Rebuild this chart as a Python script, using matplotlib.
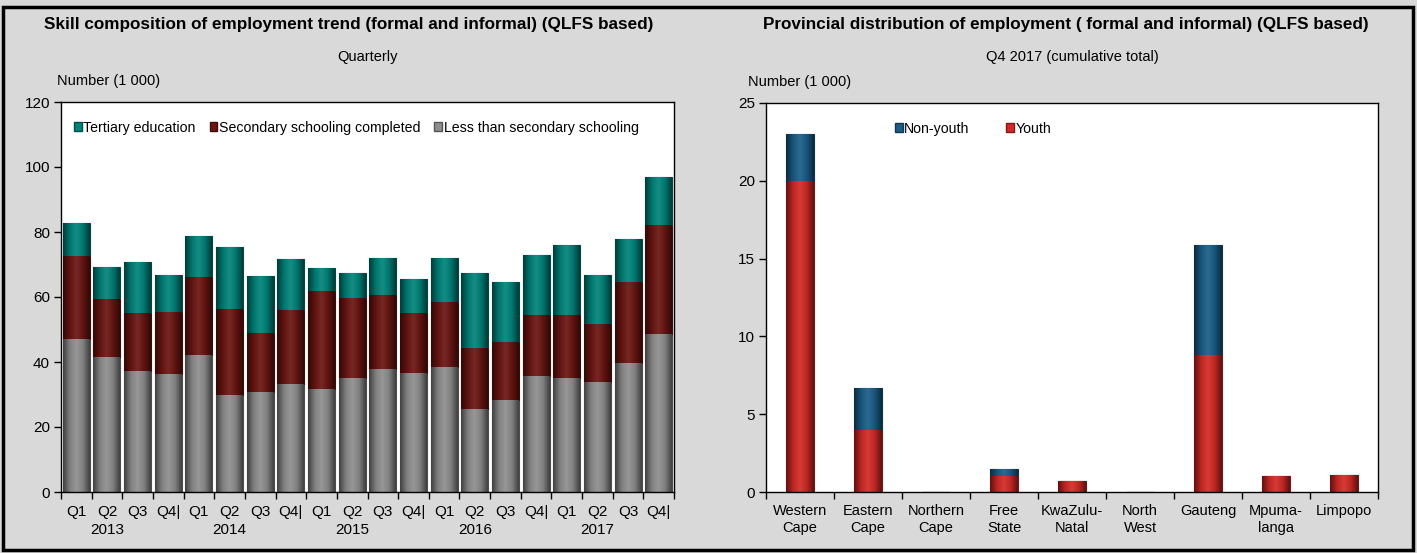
import matplotlib
matplotlib.use("Agg")

import matplotlib.pyplot as plt
import matplotlib.patches as mpatches
from matplotlib.colors import LinearSegmentedColormap
import numpy as np

NL = chr(10)

# --- data --------------------------------------------------------------
QUARTERS = ["Q1", "Q2", "Q3", "Q4|"] * 5
YEARS = ["2013", "2014", "2015", "2016", "2017"]

less_secondary = [47.0, 41.4, 37.1, 36.4, 42.3, 29.9, 30.8, 33.1, 31.8, 35.1,
                  37.8, 36.5, 38.6, 25.4, 28.3, 35.8, 35.2, 33.9, 39.8, 48.6]
secondary_top = [72.6, 59.3, 55.1, 55.5, 66.1, 56.2, 49.0, 56.0, 61.8, 59.7,
                 60.7, 55.2, 58.4, 44.2, 46.1, 54.6, 54.6, 51.8, 64.7, 82.3]
total_emp = [82.7, 69.2, 70.7, 66.9, 78.8, 75.5, 66.4, 71.7, 68.9, 67.3,
             72.1, 65.4, 72.1, 67.4, 64.5, 73.0, 76.0, 66.9, 77.8, 96.9]
secondary = [round(s - l, 1) for s, l in zip(secondary_top, less_secondary)]
tertiary = [round(t - s, 1) for t, s in zip(total_emp, secondary_top)]

PROVINCES = [("Western", "Cape"), ("Eastern", "Cape"), ("Northern", "Cape"),
             ("Free", "State"), ("KwaZulu-", "Natal"), ("North", "West"),
             ("Gauteng",), ("Mpuma-", "langa"), ("Limpopo",)]
youth = [20.0, 4.0, 0.0, 1.0, 0.7, 0.0, 8.8, 1.0, 1.1]
non_youth = [3.0, 2.7, 0.0, 0.45, 0.0, 0.0, 7.05, 0.0, 0.0]

# --- style -------------------------------------------------------------
BG = "#D9D9D9"
TEAL = "#00837A"
MAROON = "#6A1512"
GREY = "#8E8E8E"
BLUE = "#1A5E88"
RED = "#D22A26"
FONT = ["Liberation Sans Narrow", "Liberation Sans", "DejaVu Sans"]

plt.rcParams.update({
    "font.family": FONT,
    "font.size": 11,
    "axes.linewidth": 1.0,
    "xtick.direction": "out",
    "ytick.direction": "out",
})


def shade(c, f):
    c = np.array(matplotlib.colors.to_rgb(c))
    if f < 0:
        return tuple(c * (1 + f))
    return tuple(c + (1 - c) * f)


def bevel_bars(ax, x, h, bottom, width, color):
    bars = ax.bar(x, h, width, bottom=bottom, color=color,
                  edgecolor=shade(color, -0.45), linewidth=0.8, zorder=2)
    cmap = LinearSegmentedColormap.from_list(
        "b", [shade(color, -0.55), shade(color, -0.1), shade(color, 0.08),
              shade(color, -0.1), shade(color, -0.55)])
    grad = np.linspace(0, 1, 64).reshape(1, -1)
    for b in bars:
        if b.get_height() <= 0:
            continue
        x0, y0 = b.get_x(), b.get_y()
        im = ax.imshow(grad, extent=[x0, x0 + b.get_width(), y0, y0 + b.get_height()],
                       cmap=cmap, aspect="auto", zorder=2.5, interpolation="bicubic")
        im.set_clip_path(b)
    return bars


fig = plt.figure(figsize=(14.17, 5.53), dpi=100, facecolor=BG)
fig.patches.append(mpatches.Rectangle((0.002, 0.005), 0.995, 0.983, transform=fig.transFigure,
                                      fill=False, edgecolor="black", linewidth=2.5))

# --- left panel --------------------------------------------------------
ax1 = fig.add_axes([61 / 1417, 1 - 492 / 553, 613 / 1417, 390 / 553])
x = np.arange(len(QUARTERS))
bevel_bars(ax1, x, less_secondary, 0, 0.88, GREY)
bevel_bars(ax1, x, secondary, less_secondary, 0.88, MAROON)
bevel_bars(ax1, x, tertiary, secondary_top, 0.88, TEAL)
ax1.set_xlim(-0.5, len(x) - 0.5)
ax1.set_ylim(0, 120)
ax1.set_yticks(range(0, 121, 20))
ax1.set_xticks(np.arange(-0.5, len(x), 1.0))
ax1.set_xticklabels([])
ax1.tick_params(axis="x", length=5, width=1)
ax1.tick_params(axis="y", length=5, width=1, labelsize=11, pad=3)
for i, q in enumerate(QUARTERS):
    ax1.text(i, -6.2, q, ha="center", va="center", fontsize=11)
for j, yr in enumerate(YEARS):
    ax1.text(4 * j + 1, -11.8, yr, ha="center", va="center", fontsize=11)
h1 = [mpatches.Patch(facecolor=c, edgecolor=shade(c, -0.4)) for c in (TEAL, MAROON, GREY)]
ax1.legend(h1, ["Tertiary education", "Secondary schooling completed",
                "Less than secondary schooling"], ncol=3, frameon=False,
           loc="upper left", bbox_to_anchor=(0.0, 0.985), fontsize=10.2,
           handlelength=0.55, handleheight=0.6, handletextpad=0.1, columnspacing=1.0)
fig.text(349 / 1417, 1 - 25 / 553, "Skill composition of employment trend (formal and informal) (QLFS based)",
         ha="center", va="center", fontsize=12.3, fontweight="bold")
fig.text(367 / 1417, 1 - 57 / 553, "Quarterly", ha="center", va="center", fontsize=10.5)
fig.text(57 / 1417, 1 - 81 / 553, "Number (1 000)", ha="left", va="center", fontsize=10.5)

# --- right panel -------------------------------------------------------
ax2 = fig.add_axes([766 / 1417, 1 - 492 / 553, 612 / 1417, 389 / 553])
xp = np.arange(len(PROVINCES))
bevel_bars(ax2, xp, youth, 0, 0.4, RED)
bevel_bars(ax2, xp, non_youth, youth, 0.4, BLUE)
ax2.set_xlim(-0.5, len(xp) - 0.5)
ax2.set_ylim(0, 25)
ax2.set_yticks(range(0, 26, 5))
ax2.set_xticks(np.arange(-0.5, len(xp), 1.0))
ax2.set_xticklabels([])
ax2.tick_params(axis="x", length=5, width=1)
ax2.tick_params(axis="y", length=5, width=1, labelsize=11, pad=3)
for i, p in enumerate(PROVINCES):
    ax2.text(i, -0.75, NL.join(p), ha="center", va="top", fontsize=10.5, linespacing=1.3)
h2 = [mpatches.Patch(facecolor=c, edgecolor=shade(c, -0.4)) for c in (BLUE, RED)]
ax2.legend(h2, ["Non-youth", "Youth"], ncol=2, frameon=False,
           loc="upper left", bbox_to_anchor=(0.19, 0.985), fontsize=10.2,
           handlelength=0.55, handleheight=0.6, handletextpad=0.1, columnspacing=2.6)
fig.text(1066 / 1417, 1 - 25 / 553, "Provincial distribution of employment ( formal and informal) (QLFS based)",
         ha="center", va="center", fontsize=12.3, fontweight="bold")
fig.text(1072 / 1417, 1 - 57 / 553, "Q4 2017 (cumulative total)", ha="center", va="center", fontsize=10.5)
fig.text(748 / 1417, 1 - 82 / 553, "Number (1 000)", ha="left", va="center", fontsize=10.5)

fig.savefig("out.png", dpi=100, facecolor=BG)
